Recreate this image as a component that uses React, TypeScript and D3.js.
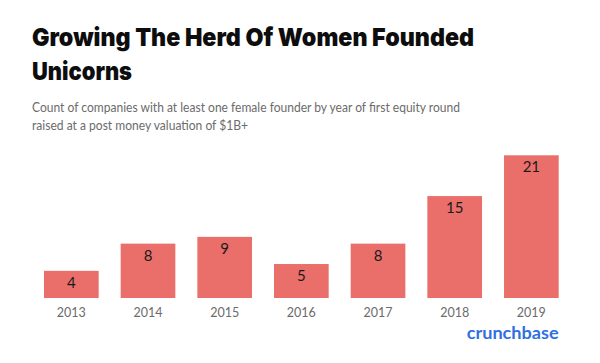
import * as d3 from 'd3';

const years = ['2013', '2014', '2015', '2016', '2017', '2018', '2019'];
const counts = [4, 8, 9, 5, 8, 15, 21];

const titleLines = ['Growing The Herd Of Women Founded', 'Unicorns'];
const titleWidths = [442, 100];
const subtitleLines = [
  'Count of companies with at least one female founder by year of first equity round',
  'raised at a post money valuation of $1B+',
];
const subtitleWidths = [428, 216];

export default function App() {
  const width = 600;
  const height = 363;
  const baseY = 298;

  const x = d3.scaleBand<string>()
    .domain(years)
    .range([44, 558.7])
    .paddingInner(0.287)
    .paddingOuter(0);

  const y = d3.scaleLinear()
    .domain([0, 21])
    .range([baseY, 155.3]);

  const rows = years.map((yr, i) => ({ year: yr, value: counts[i] }));

  return (
    <svg width={width} height={height} style={{ display: 'block', position: 'absolute', left: 0, top: 0, background: '#fff' }}>
      {titleLines.map((t, i) => (
        <text key={t} x={32} y={46 + i * 33.5} fontFamily="Inter, sans-serif" fontWeight={900}
          fontSize={25} fill="#0d0d0d" textLength={titleWidths[i]} lengthAdjust="spacingAndGlyphs">
          {t}
        </text>
      ))}
      {subtitleLines.map((t, i) => (
        <text key={t} x={32} y={112 + i * 17.5} fontFamily="Lato, sans-serif" fontSize={13.5}
          fill="#6b6b6b" textLength={subtitleWidths[i]} lengthAdjust="spacingAndGlyphs">
          {t}
        </text>
      ))}

      {rows.map(d => (
        <g key={d.year}>
          <rect x={x(d.year)} y={y(d.value)} width={x.bandwidth()} height={baseY - y(d.value)} fill="#ea6f6a" />
          <text x={(x(d.year) ?? 0) + x.bandwidth() / 2} y={y(d.value) + 17} textAnchor="middle"
            fontFamily="Lato, sans-serif" fontSize={15} fill="#1a1a1a">
            {d.value}
          </text>
          <text x={(x(d.year) ?? 0) + x.bandwidth() / 2} y={317} textAnchor="middle"
            fontFamily="Lato, sans-serif" fontSize={12.5} fill="#6b6b6b">
            {d.year}
          </text>
        </g>
      ))}

      <text x={558.7} y={338.5} textAnchor="end" fontFamily="Lato, sans-serif" fontWeight={700}
        fontSize={17} fill="#2f6fe2" textLength={92} lengthAdjust="spacingAndGlyphs">
        crunchbase
      </text>
    </svg>
  );
}
